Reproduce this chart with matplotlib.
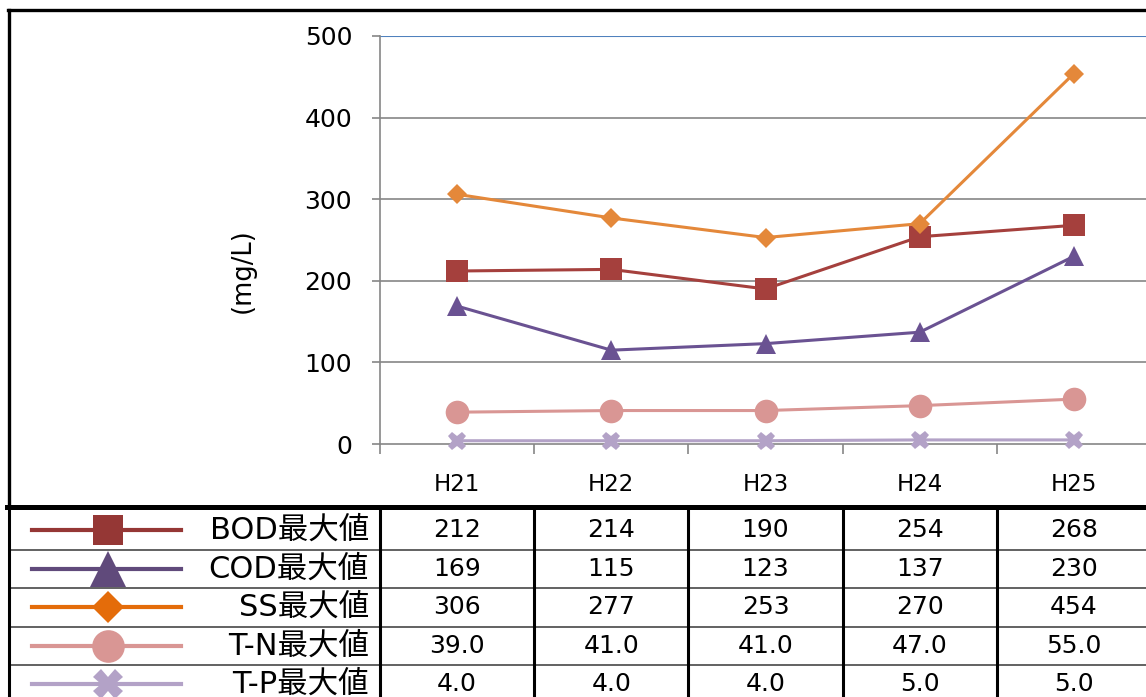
import numpy as np
import matplotlib
matplotlib.use("Agg")
import matplotlib.pyplot as plt
from matplotlib.lines import Line2D

plt.rcParams['font.family'] = ['DejaVu Sans', 'Noto Sans CJK JP']

W, H = 1146, 697

# yearly maximum values (mg/L)
years = ["H21", "H22", "H23", "H24", "H25"]
bod = [212, 214, 190, 254, 268]
cod = [169, 115, 123, 137, 230]
ss = [306, 277, 253, 270, 454]
tn = [39.0, 41.0, 41.0, 47.0, 55.0]
tp = [4.0, 4.0, 4.0, 5.0, 5.0]

names = ["BOD最大値", "COD最大値", "SS最大値", "T-N最大値", "T-P最大値"]
fmts = ["%d", "%d", "%d", "%.1f", "%.1f"]
series = [bod, cod, ss, tn, tp]

# marker, size in chart, size in table, chart colour, table colour
styles = [
    ("s", 16, 21, "#A5403D", "#953735"),
    ("^", 15, 26, "#6A5292", "#604A7B"),
    ("D", 10.5, 16, "#E4883A", "#E46C0A"),
    ("o", 17, 23.5, "#D99694", "#D99694"),
    ("X", 13, 21, "#B3A2C7", "#B3A2C7"),
]


def box(x0, y0, x1, y1):
    # pixel box (top-left origin) -> figure fraction rect
    return [x0 / W, 1 - y1 / H, (x1 - x0) / W, (y1 - y0) / H]


fig = plt.figure(figsize=(W / 100, H / 100), dpi=100)

AX_L, AX_R = 380, 1151
ax = fig.add_axes(box(AX_L, 36, AX_R, 444))
x = np.arange(len(years))
ax.set_xlim(-0.5, len(years) - 0.5)
ax.set_ylim(0, 500)

grid_c = "#868686"
for v in [100, 200, 300, 400]:
    ax.axhline(v, color=grid_c, lw=1.2, zorder=1)
ax.axhline(500, color="#4F81BD", lw=1.5, zorder=1)

for vals, (m, ms, _, c, _) in zip(series, styles):
    ax.plot(x, vals, color=c, lw=2.2, marker=m, markersize=ms,
            markeredgewidth=0, zorder=3, clip_on=False)

for s in ["top", "right"]:
    ax.spines[s].set_visible(False)
for s in ["left", "bottom"]:
    ax.spines[s].set_color(grid_c)
    ax.spines[s].set_linewidth(1.2)

ax.set_yticks(np.arange(0, 501, 100))
ax.tick_params(axis="y", length=6, width=1.2, color=grid_c, pad=14,
               labelsize=18)
ax.set_xticks(np.arange(-0.5, len(years)), labels=[])
ax.set_xticks(x, labels=years, minor=True)
ax.tick_params(axis="x", which="major", length=7, width=1.2, color=grid_c)
ax.tick_params(axis="x", which="minor", length=0, pad=21, labelsize=16.5)

fig.text(243 / W, 1 - 271 / H, "(mg/L)", rotation=90, ha="center",
         va="center", fontsize=18.5)

# chart frame
fig.add_artist(Line2D([8 / W, 1], [1 - 10 / H] * 2, color="black", lw=2.4))
fig.add_artist(Line2D([9 / W] * 2, [1 - 10 / H, 1 - 507 / H], color="black",
                      lw=2.4))
fig.add_artist(Line2D([7 / W, 1], [1 - 507 / H] * 2, color="black", lw=3.6))

# data table below the chart
tab = fig.add_axes(box(AX_L, 507, AX_R, H))
tab.set_xlim(ax.get_xlim())
tab.set_ylim(H, 507)
tab.axis("off")
step = (AX_R - AX_L) / len(years)


def colx(px):
    return -0.5 + (px - AX_L) / step


top, rh = 511, 38.5
left = colx(9)
for i in range(1, len(series) + 1):
    tab.plot([left, len(years) - 0.5], [top + rh * i] * 2, color="#555555",
             lw=1.3, clip_on=False)
for b in [left] + list(np.arange(-0.5, len(years))):
    tab.plot([b, b], [507, H + 5], color="black", lw=2.2, clip_on=False)

for i, (name, fmt, vals, (m, _, lms, _, lc)) in enumerate(
        zip(names, fmts, series, styles)):
    yc = top + rh * (i + 0.5)
    tab.plot([colx(32), colx(181)], [yc, yc], color=lc, lw=3, clip_on=False)
    tab.plot([colx(108)], [yc], color=lc, marker=m, markersize=lms,
             markeredgewidth=0, clip_on=False)
    tab.text(colx(369), yc, name, ha="right", va="center", fontsize=22)
    for j, v in enumerate(vals):
        tab.text(j, yc, fmt % v, ha="center", va="center", fontsize=18)

fig.savefig("out.png", dpi=100)
